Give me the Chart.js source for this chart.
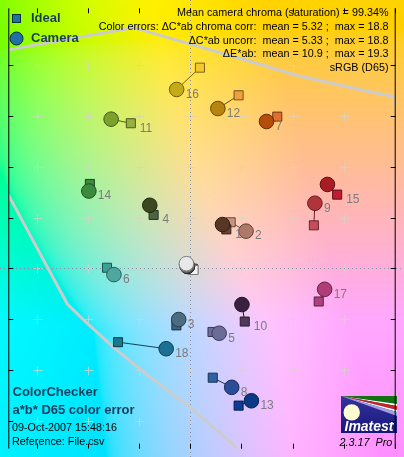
<!DOCTYPE html>
<html>
<head>
<meta charset="utf-8">
<script src="https://cdn.jsdelivr.net/npm/chart.js@4.4.0/dist/chart.umd.min.js"></script>
<style>
  html, body { margin: 0; padding: 0; background: #fff; }
  canvas { display: block; }
</style>
</head>
<body>
<canvas id="abChart" width="404" height="457"></canvas>
<script>
// ColorChecker patches 1..24 (19-24 = neutrals, no label)
const patchNames = ['1','2','3','4','5','6','7','8','9','10','11','12','13','14','15','16','17','18','19','20','21','22','23','24'];
const idealA  = [14.1, 15.8, -5.4, -14.3,   8.7, -32.5, 34.0,   8.8, 48.3,  21.3, -23.2, 18.9,  18.9, -39.2, 57.4,  3.8,  50.2, -28.2, 1.3, 1.2, 1.1, 1.0, 1.0, 0.9];
const idealB  = [15.4, 18.2, -22.4, 21.1, -25.0,   0.3, 59.8, -43.0, 17.0, -20.9,  57.2, 68.2, -54.0,  33.3, 29.1, 79.1, -13.0, -29.0, -0.6, -0.5, -0.4, -0.3, -0.2, -0.1];
const cameraA = [12.6, 21.8, -4.5, -15.8,  11.3, -29.8, 29.8,  16.2, 48.7,  20.2, -30.9, 10.8,  23.9, -39.6, 53.6, -5.3,  52.5,  -9.4, -1.5, -1.4, -1.4, -1.2, -1.1, -1.1];
const cameraB = [17.3, 14.7, -20.1, 24.9, -25.5,  -2.4, 57.9, -46.8, 25.7, -14.2,  58.8, 63.0, -52.1,  30.5, 33.1, 70.5,  -8.2, -31.6, 1.9, 1.6, 1.3, 1.1, 0.9, 0.8];

const idealColors  = ['#6c4434','#c89482','#3c6480','#4c6440','#706c9c','#3ca098','#e07030','#3060a4','#c84c5c','#503858','#98b040','#f0a040',
                      '#0c3c98','#3c8c3c','#c01c34','#f4c830','#b0407c','#187890','#f2f2f2','#c8c8c8','#a0a0a0','#7a7a7a','#555555','#343434'];
const cameraColors = ['#5a3626','#b07868','#4c6c80','#3c4820','#6c6c98','#4ea8a0','#b44c0c','#2c4c98','#b0343c','#3a2040','#7ca02c','#b88410',
                      '#0c3888','#3c8a3c','#a81c24','#c4aa18','#b03c78','#1c7094','#e8e8e8','#c4c4c4','#9c9c9c','#707070','#484848','#202020'];

// sRGB gamut outline (projection on the a*b* plane)
const gamutTopA  = [-74.0, -71.1, -22.0, -10.7, 16.9, 42.2, 67.4, 79.9, 81.0];
const gamutTopB  = [ 85.5,  86.1,  94.9,  91.5, 83.5, 75.9, 70.2, 67.6, 58.0];
const gamutLeftA = [-74.0, -71.1, -48.0, -40.2, -29.5, -17.1,  -0.5,  16.9,  20.0];
const gamutLeftB = [ 36.0,  29.2, -14.0, -21.6, -31.5, -41.7, -54.3, -69.4, -74.0];

const aTicks = [-60, -40, -20, 0, 20, 40, 60, 80];
const bTicks = [-60, -40, -20, 0, 20, 40, 60, 80];
const crossA = [-60, -40, -20, 0, 20, 40, 60];
const crossB = [-60, -40, -20, 0, 20, 40, 60, 80];

const infoLines = [
  'Mean camera chroma (saturation) = 99.34%',
  'Color errors: \u0394C*ab chroma corr:  mean = 5.32 ;  max = 18.8',
  '\u0394C*ab uncorr:  mean = 5.33 ;  max = 18.8',
  '\u0394E*ab:  mean = 10.9 ;  max = 19.3',
  'sRGB (D65)'
];
const titleLines = ['ColorChecker', 'a*b* D65 color error'];
const footLines = ['09-Oct-2007 15:48:16', 'Reference: File.csv'];
const versionText = '2.3.17  Pro';

const FONT = '"Liberation Sans", Arial, sans-serif';
const NAVY = '#173c5c';

function darken(hex, k) {
    const n = parseInt(hex.slice(1), 16);
    const r = Math.round(((n >> 16) & 255) * k);
    const g = Math.round(((n >> 8) & 255) * k);
    const b = Math.round((n & 255) * k);
    return `rgb(${r},${g},${b})`;
}

// background lightness: a bit lighter toward yellow, darker toward blue
function bgLightness(b) {
    return Math.min(95, Math.max(80, 87 + 0.06 * b));
}

function labToRgb(L, a, b) {
    const fy = (L + 16) / 116, fx = fy + a / 500, fz = fy - b / 200;
    const finv = t => (t * t * t > 0.008856 ? t * t * t : (t - 16 / 116) / 7.787);
    let X = 0.95047 * finv(fx), Y = finv(fy), Z = 1.08883 * finv(fz);
    X = Math.min(Math.max(X, 0), 0.95047);
    Z = Math.min(Math.max(Z, 0), 1.08883);
    const lin = [
        3.2406 * X - 1.5372 * Y - 0.4986 * Z,
        -0.9689 * X + 1.8758 * Y + 0.0415 * Z,
        0.0557 * X - 0.2040 * Y + 1.0570 * Z
    ];
    return lin.map(v => {
        v = Math.min(Math.max(v, 0), 1);
        v = v <= 0.0031308 ? 12.92 * v : 1.055 * Math.pow(v, 1 / 2.4) - 0.055;
        return Math.round(v * 255);
    });
}

// drawing order: 24 first so that patch 19 (white) ends up on top
const drawOrder = patchNames.map((p, i) => i).reverse();

const datasets = [];
datasets.push({
    data: gamutTopA.map((a, i) => ({ x: a, y: gamutTopB[i] })),
    showLine: true, borderColor: '#cccccc', borderWidth: 3, pointRadius: 0, order: 6
});
datasets.push({
    data: gamutLeftA.map((a, i) => ({ x: a, y: gamutLeftB[i] })),
    showLine: true, borderColor: '#cccccc', borderWidth: 3, pointRadius: 0, order: 6
});
patchNames.forEach((p, i) => {
    datasets.push({
        data: [{ x: idealA[i], y: idealB[i] }, { x: cameraA[i], y: cameraB[i] }],
        showLine: true, borderColor: darken(cameraColors[i], 0.6), borderWidth: 1, pointRadius: 0, order: 5
    });
});
datasets.push({
    label: 'Ideal',
    data: drawOrder.map(i => ({ x: idealA[i], y: idealB[i] })),
    pointStyle: 'rect', pointRadius: 6.4,
    backgroundColor: drawOrder.map(i => idealColors[i]),
    borderColor: drawOrder.map(i => darken(idealColors[i], 0.5)),
    borderWidth: 1, order: 3
});
datasets.push({
    label: 'Camera',
    data: drawOrder.map(i => ({ x: cameraA[i], y: cameraB[i] })),
    pointStyle: 'circle', pointRadius: 7.3,
    backgroundColor: drawOrder.map(i => cameraColors[i]),
    borderColor: drawOrder.map(i => darken(cameraColors[i], 0.55)),
    borderWidth: 1, order: 2
});

const abPlugin = {
    id: 'abPlugin',
    beforeDraw(chart) {
        const ctx = chart.ctx;
        const xs = chart.scales.x, ys = chart.scales.y;
        const w = chart.canvas.width, h = chart.canvas.height;
        const img = ctx.createImageData(w, h);
        const aCol = [], bRow = [];
        for (let x = 0; x < w; x++) aCol.push(xs.getValueForPixel(x + 0.5));
        for (let y = 0; y < h; y++) bRow.push(ys.getValueForPixel(y + 0.5));
        for (let y = 0; y < h; y++) {
            const L = bgLightness(bRow[y]);
            for (let x = 0; x < w; x++) {
                const c = labToRgb(L, aCol[x], bRow[y]);
                const k = (y * w + x) * 4;
                img.data[k] = c[0]; img.data[k + 1] = c[1]; img.data[k + 2] = c[2]; img.data[k + 3] = 255;
            }
        }
        ctx.putImageData(img, 0, 0);

        // grid crosses
        ctx.save();
        ctx.strokeStyle = 'rgba(212,212,200,0.75)';
        ctx.lineWidth = 1;
        crossA.forEach(a => {
            crossB.forEach(b => {
                const px = Math.round(xs.getPixelForValue(a)) + 0.5;
                const py = Math.round(ys.getPixelForValue(b)) + 0.5;
                ctx.beginPath();
                ctx.moveTo(px - 4, py); ctx.lineTo(px + 5, py);
                ctx.moveTo(px, py - 4); ctx.lineTo(px, py + 5);
                ctx.stroke();
            });
        });
        // dotted axes
        const x0 = Math.round(xs.getPixelForValue(0)) + 0.5;
        const y0 = Math.round(ys.getPixelForValue(0)) + 0.5;
        ctx.strokeStyle = '#8e8ea4';
        ctx.setLineDash([1, 3]);
        ctx.beginPath();
        ctx.moveTo(x0, 0); ctx.lineTo(x0, h);
        ctx.moveTo(0, y0); ctx.lineTo(w, y0);
        ctx.stroke();
        ctx.restore();
    },
    afterDraw(chart) {
        const ctx = chart.ctx;
        const xs = chart.scales.x, ys = chart.scales.y;
        const area = chart.chartArea;
        ctx.save();

        // patch numbers
        ctx.font = '12px ' + FONT;
        ctx.fillStyle = '#7c7c7c';
        ctx.textBaseline = 'middle';
        ctx.textAlign = 'left';
        for (let i = 0; i < 18; i++) {
            const sx = xs.getPixelForValue(idealA[i]), sy = ys.getPixelForValue(idealB[i]);
            const cx = xs.getPixelForValue(cameraA[i]), cy = ys.getPixelForValue(cameraB[i]);
            const useSquare = sx > cx && sy > cy;
            const ax = useSquare ? sx : cx, ay = useSquare ? sy : cy;
            ctx.fillText(patchNames[i], ax + 9, ay + 5);
        }

        // legend
        ctx.fillStyle = '#1a78a0';
        ctx.strokeStyle = '#0c2c40';
        ctx.lineWidth = 1;
        ctx.fillRect(12.5, 14.5, 8, 8);
        ctx.strokeRect(12.5, 14.5, 8, 8);
        ctx.beginPath();
        ctx.arc(16.5, 38.5, 6.5, 0, Math.PI * 2);
        ctx.fillStyle = '#2070a8';
        ctx.fill();
        ctx.stroke();
        ctx.fillStyle = NAVY;
        ctx.font = 'bold 13px ' + FONT;
        ctx.fillText('Ideal', 31, 18.5);
        ctx.fillText('Camera', 31, 38.5);

        // info block
        ctx.fillStyle = '#000';
        ctx.font = '10.8px ' + FONT;
        ctx.textAlign = 'right';
        infoLines.forEach((t, i) => ctx.fillText(t, 388.5, 13.5 + i * 13.6));

        // title block
        ctx.textAlign = 'left';
        ctx.fillStyle = NAVY;
        ctx.font = 'bold 13px ' + FONT;
        titleLines.forEach((t, i) => ctx.fillText(t, 12.5, 392.5 + i * 18));
        ctx.fillStyle = '#000';
        ctx.font = '10.8px ' + FONT;
        footLines.forEach((t, i) => ctx.fillText(t, 12, 428.5 + i * 13.5));

        // logo
        const lx = 341, ly = 396, lw = 56, lh = 37;
        const grad = ctx.createLinearGradient(lx, ly, lx, ly + lh);
        grad.addColorStop(0, '#34349e');
        grad.addColorStop(1, '#16167a');
        ctx.fillStyle = grad;
        ctx.fillRect(lx, ly, lw, lh);
        ctx.save();
        ctx.beginPath();
        ctx.rect(lx, ly, lw, lh);
        ctx.clip();
        const stripes = [[0, 8, '#127212'], [8, 10, '#ffffff'], [10, 14, '#c8261c'], [14, 16, '#ffffff'], [16, 20, '#a49ce4']];
        stripes.forEach(s => {
            ctx.beginPath();
            ctx.moveTo(lx, ly);
            ctx.lineTo(lx + lw, ly + s[0]);
            ctx.lineTo(lx + lw, ly + s[1]);
            ctx.closePath();
            ctx.fillStyle = s[2];
            ctx.fill();
        });
        ctx.restore();
        ctx.beginPath();
        ctx.arc(351.7, 412.4, 8.2, 0, Math.PI * 2);
        ctx.fillStyle = '#fffbd0';
        ctx.fill();
        ctx.fillStyle = '#ffffff';
        ctx.font = 'italic bold 14px ' + FONT;
        ctx.textAlign = 'center';
        ctx.fillText('Imatest', 369, 427);
        ctx.fillStyle = '#000';
        ctx.font = 'italic 10.8px ' + FONT;
        ctx.textAlign = 'left';
        ctx.fillText(versionText, 339.5, 442.5);

        // ticks and frame
        ctx.strokeStyle = '#000';
        ctx.lineWidth = 1;
        ctx.beginPath();
        aTicks.forEach(a => {
            const px = Math.round(xs.getPixelForValue(a)) + 0.5;
            ctx.moveTo(px, area.top); ctx.lineTo(px, area.top + 5);
            ctx.moveTo(px, area.bottom); ctx.lineTo(px, area.bottom - 5);
        });
        bTicks.forEach(b => {
            const py = Math.round(ys.getPixelForValue(b)) + 0.5;
            ctx.moveTo(area.left, py); ctx.lineTo(area.left + 5, py);
            ctx.moveTo(area.right, py); ctx.lineTo(area.right - 5, py);
        });
        ctx.moveTo(area.left + 0.5, area.top); ctx.lineTo(area.left + 0.5, area.bottom);
        ctx.moveTo(area.right - 0.5, area.top); ctx.lineTo(area.right - 0.5, area.bottom);
        ctx.stroke();
        ctx.restore();
    }
};

new Chart(document.getElementById('abChart'), {
    type: 'scatter',
    data: { datasets: datasets },
    options: {
        responsive: false,
        devicePixelRatio: 1,
        animation: false,
        layout: { padding: { left: 0, right: 3, top: 0, bottom: 0 } },
        scales: {
            x: { type: 'linear', min: -71.06, max: 80.26, display: false },
            y: { type: 'linear', min: -70.97, max: 102.47, display: false }
        },
        plugins: { legend: { display: false }, tooltip: { enabled: false } },
        events: []
    },
    plugins: [abPlugin]
});
</script>
</body>
</html>
